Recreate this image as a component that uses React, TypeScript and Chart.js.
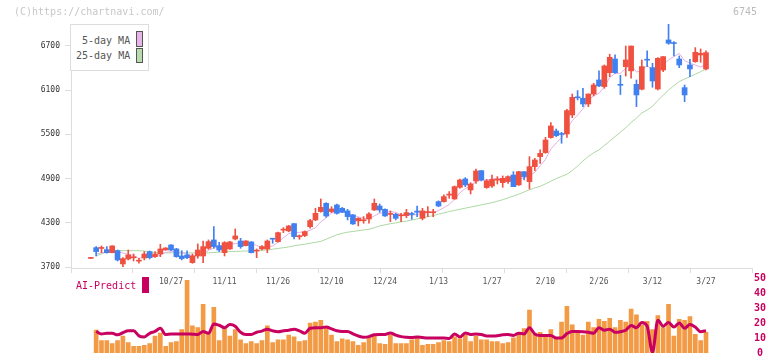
import React, { useEffect, useRef } from "react";
import { Chart, registerables } from "chart.js";

Chart.register(...registerables);

// ---- price data (index 0 .. 115, trading days) ----
const openP = [3820,3966,3955,3939,3898,3925,3745,3812,3828,3783, 3826,3912,3844,3880,3934,4002,3948,3853,3867,3763, 3853,3853,3957,4070,3993,3898,3948,4083,4056,3993, 4043,3919,3948,3948,4085,4047,4203,4192,4291,4113, 4129,4250,4341,4454,4566,4454,4544,4499,4463,4409, 4328,4330,4354,4476,4530,4485,4416,4418,4397,4400, 4420,4462,4363,4440,4438,4589,4589,4677,4625,4783, 4896,4747,4869,5009,4779,4801,4880,4846,4860,4950, 4815,4995,4860,5063,5198,5253,5456,5546,5503,5506, 5763,6000,5989,5912,6047,6237,6147,6336,6521,6170, 6418,6360,6178,6111,6510,6404,6115,6372,6779,6735, 6521,6133,6440,6485,6575,6386];
const highP = [3825,3980,3989,3980,3993,3934,3830,3934,3880,3822, 3912,3921,3912,4011,3966,4006,3957,3925,3921,3880, 4016,4056,4070,4250,4038,4047,4050,4219,4092,4060, 4047,3948,3993,4070,4085,4175,4237,4268,4291,4138, 4192,4350,4499,4625,4575,4521,4557,4510,4485,4415, 4372,4386,4440,4625,4557,4490,4463,4431,4431,4485, 4445,4530,4499,4521,4485,4600,4680,4725,4800,4896, 4914,4846,5031,5009,4890,4950,4928,4937,4937,4995, 5000,4995,5198,5176,5289,5460,5659,5573,5528,5840, 6047,6093,6124,6047,6192,6359,6440,6585,6576,6300, 6697,6697,6237,6508,6630,6463,6540,6553,6995,6756, 6562,6169,6517,6675,6657,6630];
const lowP = [3818,3853,3898,3890,3895,3785,3709,3799,3785,3754, 3799,3812,3835,3844,3930,3925,3835,3799,3817,3754, 3822,3763,3943,3957,3912,3853,3940,4070,3957,3990, 3895,3830,3934,3898,4025,4040,4169,4180,4083,4079, 4115,4228,4330,4445,4377,4440,4418,4440,4341,4280, 4260,4296,4296,4467,4445,4390,4318,4341,4318,4372, 4350,4386,4341,4386,4386,4520,4580,4634,4620,4770, 4792,4693,4837,4869,4770,4783,4828,4783,4837,4792, 4810,4882,4760,5009,5108,5244,5447,5470,5380,5460, 5727,5966,5876,5876,6020,6147,6124,6282,6327,6040, 6290,6260,5876,6102,6418,6138,6102,6350,6720,6562, 6404,5943,6282,6476,6476,6372];
const closeP = [3822,3912,3960,3898,3989,3799,3817,3867,3832,3787, 3880,3830,3880,3948,3961,3934,3844,3817,3830,3853, 3934,3980,4047,3980,3934,4034,4043,4124,3980,4056, 3898,3923,3980,4056,4080,4169,4207,4259,4115,4117, 4183,4332,4431,4512,4395,4490,4431,4445,4386,4287, 4363,4336,4422,4566,4476,4395,4420,4363,4400,4440, 4415,4445,4463,4445,4445,4530,4657,4682,4792,4882, 4815,4828,5004,4882,4870,4890,4884,4905,4928,4792, 4995,4928,5063,5153,5243,5424,5614,5483,5499,5822, 6002,5995,5912,6047,6169,6156,6427,6544,6336,6165, 6508,6697,6034,6418,6505,6223,6530,6553,6734,6730, 6440,6034,6386,6612,6598,6607];

const ma5 = [null,3880,3895,3905,3916,3912,3893,3874,3861,3820, 3837,3839,3842,3865,3900,3911,3913,3901,3877,3856, 3856,3883,3929,3959,3975,3995,4008,4023,4023,4047, 4020,3996,3967,3983,3987,4042,4098,4154,4166,4173, 4176,4201,4236,4315,4371,4432,4452,4455,4429,4408, 4382,4363,4359,4395,4433,4439,4456,4444,4411,4404, 4408,4413,4433,4442,4443,4466,4508,4552,4621,4709, 4766,4800,4864,4882,4880,4895,4906,4886,4895,4880, 4901,4910,4941,4986,5076,5162,5300,5384,5453,5568, 5686,5761,5847,5956,6026,6056,6142,6269,6327,6326, 6395,6447,6345,6362,6431,6374,6342,6446,6509,6554, 6597,6498,6465,6438,6412,6445];
const ma25 = [null,3853,3880,3905,3920,3925,3925,3925,3925,3925, 3920,3910,3900,3895,3895,3895,3895,3895,3895,3895, 3893,3893,3895,3900,3905,3910,3912,3915,3918,3920, 3922,3925,3930,3935,3945,3955,3965,3975,3990,4002, 4012,4025,4038,4050,4080,4110,4140,4160,4175,4185, 4195,4205,4215,4235,4260,4275,4290,4300,4315,4325, 4340,4355,4370,4385,4400,4420,4435,4455,4470,4485, 4500,4515,4530,4545,4560,4575,4595,4615,4640,4665, 4690,4720,4750,4775,4795,4830,4865,4900,4930,4960, 5010,5070,5140,5200,5250,5290,5350,5410,5470,5530, 5590,5660,5720,5790,5830,5880,5960,6030,6100,6160, 6215,6250,6280,6315,6350,6385];

// ---- lower panel ----
const volume = [null,15.3,8.3,8.3,6.4,8.3,11.4,7.0,4.5,4.5, 5.2,6.4,11.4,13.3,4.5,7.0,7.7,15.8,48.8,18.2, 17.0,32.6,13.9,30.7,8.3,16.4,11.4,15.8,8.9,6.4, 7.7,6.4,8.3,18.2,7.0,8.9,8.9,12.0,10.8,7.7, 8.3,20.1,20.7,22.0,17.0,12.0,7.7,9.5,8.9,7.7, 5.2,7.0,10.1,11.4,6.4,5.8,12.0,6.4,6.4,6.4, 8.9,10.1,5.2,5.8,5.8,7.0,8.3,7.7,10.8,9.5, 12.0,7.7,11.4,8.9,8.9,7.7,7.7,6.4,7.0,10.1, 12.6,16.4,28.8,12.6,13.9,12.6,15.7,9.5,20.7,31.3, 18.9,13.9,12.0,20.7,17.0,22.6,21.3,23.2,17.0,22.0, 20.7,29.4,25.7,18.9,21.3,15.7,25.1,17.0,32.6,11.4, 22.6,22.0,24.5,12.6,8.3,13.9];
const aiPredict = [null,14.5,12.8,13.2,13.2,12.2,13.6,14.9,14.9,11.5, 10.8,13.2,14.5,16.6,12.4,12.8,12.8,12.8,12.8,12.6, 12.4,14.5,13.2,19.5,18.6,17.0,19.1,18.0,13.9,12.4, 12.4,13.9,14.7,16.0,14.9,14.3,14.9,15.3,16.0,14.9, 13.3,16.6,17.0,17.0,17.4,16.2,14.9,14.5,14.5,12.8, 11.4,10.6,11.0,12.2,12.4,12.4,13.5,12.0,11.0,10.6, 10.4,10.8,10.4,10.1,10.1,10.1,10.1,9.7,12.8,10.8, 13.5,12.4,12.8,12.4,11.4,11.4,11.6,12.2,12.4,11.8, 13.3,12.8,17.0,12.8,11.8,11.8,11.8,10.1,10.1,13.0, 14.5,14.5,14.3,13.9,13.3,17.0,15.3,16.0,13.9,14.3, 15.3,18.4,17.0,20.5,18.0,0.5,22.0,18.0,20.5,17.4, 20.1,16.6,19.1,17.4,14.3,15.0];

// ---- axes ----
const dateLabels = ["10/27","11/11","11/26","12/10","12/24","1/13","1/27","2/10","2/26","3/12","3/27"];
const dateIndex = [15,25,35,45,55,65,75,85,95,105,115];
const priceTicks = [3700,4300,4900,5500,6100,6700];
const scoreTicks = [0,10,20,30,40,50];

const X_MIN = -3.7;
const X_MAX = 123.6;
const MONO = '"DejaVu Sans Mono", monospace';
const RED = "#f05040";
const BLUE = "#4080f0";
const PINK = "#e4aee4";
const GREEN = "#acd8a2";
const ORANGE = "#f29a44";
const CRIMSON = "#c8005f";

export default function App() {
  const mainRef = useRef<HTMLCanvasElement>(null);
  const subRef = useRef<HTMLCanvasElement>(null);

  useEffect(() => {
    const idx = openP.map((_, i) => i);
    const colors = idx.map((i) => (closeP[i] >= openP[i] ? RED : BLUE));
    const main = new Chart(mainRef.current as HTMLCanvasElement, {
      type: "bar",
      data: {
        datasets: [
          {
            type: "bar",
            data: idx.map((i) => ({ x: i, y: [openP[i], closeP[i]] })) as any,
            backgroundColor: colors,
            barThickness: 5,
            grouped: false,
            minBarLength: 1,
            order: 0,
          } as any,
          {
            type: "bar",
            data: idx.map((i) => ({ x: i, y: [lowP[i], highP[i]] })) as any,
            backgroundColor: colors,
            barThickness: 1,
            grouped: false,
            minBarLength: 1,
            order: 1,
          } as any,
          {
            type: "line",
            data: idx.map((i) => ({ x: i, y: ma5[i] })) as any,
            borderColor: PINK,
            borderWidth: 1,
            pointRadius: 0,
            tension: 0,
            order: 2,
          } as any,
          {
            type: "line",
            data: idx.map((i) => ({ x: i, y: ma25[i] })) as any,
            borderColor: GREEN,
            borderWidth: 1,
            pointRadius: 0,
            tension: 0,
            order: 3,
          } as any,
        ],
      },
      options: {
        animation: false,
        responsive: false,
        events: [],
        layout: { padding: { top: 24, right: 20, left: 0, bottom: 0 } },
        plugins: { legend: { display: false }, tooltip: { enabled: false } },
        scales: {
          x: {
            type: "linear",
            axis: "x",
            position: "bottom",
            weight: 0,
            min: X_MIN,
            max: X_MAX,
            offset: false,
            grid: { drawOnChartArea: false, offset: false, tickLength: 5, color: "#dddddd" },
            border: { color: "#dddddd" },
            ticks: { display: false },
            afterBuildTicks: (s: any) => {
              s.ticks = Array.from({ length: 12 }, (_, k) => ({ value: X_MIN + (k * (X_MAX - X_MIN)) / 11 }));
            },
            afterFit: (s: any) => {
              s.height = 5;
            },
          },
          xd: {
            type: "linear",
            axis: "x",
            position: "bottom",
            weight: 1,
            min: X_MIN,
            max: X_MAX,
            offset: false,
            grid: { display: false, drawTicks: false },
            border: { display: false },
            ticks: {
              autoSkip: false,
              maxRotation: 0,
              padding: 4,
              color: "#555555",
              font: { family: MONO, size: 8 },
              callback: (_v: any, i: number) => dateLabels[i],
            },
            afterBuildTicks: (s: any) => {
              s.ticks = dateIndex.map((v) => ({ value: v }));
            },
            afterFit: (s: any) => {
              s.height = 22;
            },
          },
          y: {
            position: "left",
            min: 3690,
            max: 6995,
            beginAtZero: false,
            grid: { drawOnChartArea: false, tickLength: 6, color: "#dddddd" },
            border: { color: "#dddddd" },
            ticks: {
              padding: 5,
              color: "#333333",
              font: { family: MONO, size: 8 },
              callback: (v: any) => String(v),
            },
            afterBuildTicks: (s: any) => {
              s.ticks = priceTicks.map((v) => ({ value: v }));
            },
            afterFit: (s: any) => {
              s.width = 71;
            },
          },
        } as any,
      },
    });

    const sub = new Chart(subRef.current as HTMLCanvasElement, {
      type: "bar",
      data: {
        datasets: [
          {
            type: "line",
            data: idx.filter((i) => aiPredict[i] !== null).map((i) => ({ x: i, y: aiPredict[i] })) as any,
            borderColor: CRIMSON,
            borderWidth: 3,
            pointRadius: 0,
            cubicInterpolationMode: "monotone",
            order: 0,
          } as any,
          {
            type: "bar",
            data: idx.filter((i) => volume[i] !== null).map((i) => ({ x: i, y: volume[i] })) as any,
            backgroundColor: ORANGE,
            barThickness: 4,
            grouped: false,
            order: 1,
          } as any,
        ],
      },
      options: {
        animation: false,
        responsive: false,
        events: [],
        layout: { padding: { top: 10.5, right: 4, left: 71, bottom: 3.7 } },
        plugins: { legend: { display: false }, tooltip: { enabled: false } },
        scales: {
          x: { type: "linear", min: X_MIN, max: X_MAX, offset: false, display: false, grid: { offset: false } },
          y: {
            position: "right",
            min: 0,
            max: 50,
            grid: { display: false, drawTicks: false },
            border: { display: false },
            ticks: {
              padding: 2,
              crossAlign: "center",
              color: CRIMSON,
              font: { family: MONO, size: 10, weight: "bold" },
              callback: (v: any) => String(v),
            },
            afterBuildTicks: (s: any) => {
              s.ticks = scoreTicks.map((v) => ({ value: v }));
            },
            afterFit: (s: any) => {
              s.width = 16;
            },
          },
        } as any,
      },
    });

    return () => {
      main.destroy();
      sub.destroy();
    };
  }, []);

  const txt: React.CSSProperties = {
    position: "absolute",
    fontFamily: MONO,
    fontSize: 10,
    lineHeight: "12px",
    whiteSpace: "nowrap",
  };

  return (
    <div style={{ position: "absolute", left: 0, top: 0, width: 772, height: 361, background: "#ffffff", overflow: "hidden" }}>
      <canvas ref={subRef} width={772} height={93} style={{ position: "absolute", left: 0, top: 268 }} />
      <canvas ref={mainRef} width={772} height={295} style={{ position: "absolute", left: 0, top: 0 }} />
      <div style={{ ...txt, left: 14, top: 6, color: "#c8c8c8" }}>(C)https://chartnavi.com/</div>
      <div style={{ ...txt, left: 733, top: 6, color: "#bbbbbb" }}>6745</div>
      <div
        style={{
          position: "absolute",
          left: 70,
          top: 24,
          width: 79,
          height: 47,
          boxSizing: "border-box",
          border: "1px solid #dddddd",
          background: "#ffffff",
        }}
      />
      <div style={{ ...txt, left: 82, top: 35, color: "#555555" }}>5-day MA</div>
      <div style={{ ...txt, left: 76, top: 50, color: "#555555" }}>25-day MA</div>
      <div style={{ position: "absolute", left: 136, top: 31, width: 7, height: 16, boxSizing: "border-box", border: "1px solid #555555", background: "#e8b4e8" }} />
      <div style={{ position: "absolute", left: 136, top: 48, width: 7, height: 15, boxSizing: "border-box", border: "1px solid #555555", background: "#b8dcb0" }} />
      <div style={{ ...txt, left: 76, top: 280, color: CRIMSON }}>AI-Predict</div>
      <div style={{ position: "absolute", left: 142, top: 277, width: 7, height: 16, background: CRIMSON }} />
    </div>
  );
}
